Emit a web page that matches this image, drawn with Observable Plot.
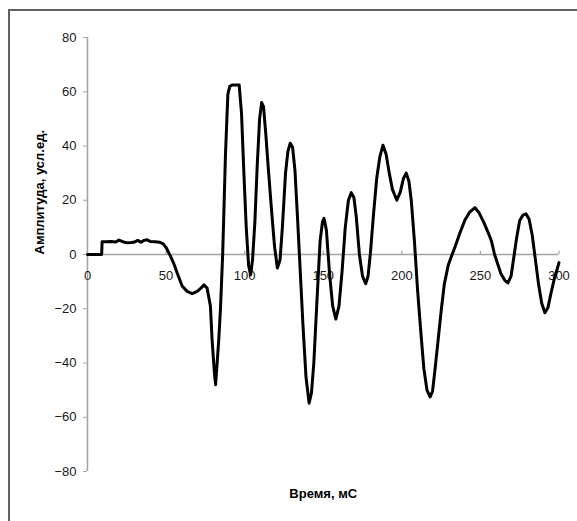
<!DOCTYPE html>
<html>
<head>
<meta charset="utf-8">
<script src="https://cdn.jsdelivr.net/npm/d3@7"></script>
<script src="https://cdn.jsdelivr.net/npm/@observablehq/plot@0.6"></script>
<style>
  html, body { margin: 0; padding: 0; background: #fff; }
  #wrap { position: relative; width: 577px; height: 521px; overflow: hidden; }
  #border { position: absolute; left: 8px; top: 9px; width: 600px; height: 600px;
            border-left: 2px solid #626262; border-top: 2px solid #626262; pointer-events: none; z-index: 2; }
  svg { background: transparent !important; }
</style>
</head>
<body>
<div id="wrap"><div id="border"></div></div>
<script>
const time = [
  0, 9, 9.3, 12, 15, 18, 20, 22, 25, 28, 30, 32, 34, 36, 38, 40, 43, 46, 48,
  50, 52.8, 55, 57, 60.2, 63.4, 66.6, 69.8, 72, 74, 76.1, 78.2, 79.3, 80.8, 81.5, 83.5, 84.6, 86,
  87.8, 89.3, 90.5, 92, 96.5, 98, 99.5, 101, 102.5, 103.8, 105, 106.5, 108, 109.5, 110.8, 112,
  113.5, 115, 117, 119, 120.8, 122.5, 124, 126, 127.5, 129, 130.5, 132, 133.5, 135, 137, 139,
  141, 142.5, 144, 146, 148, 149.5, 150.5, 152, 154, 156, 158, 160, 162, 164, 166, 167.8, 169.5,
  171, 173, 175, 177, 178.5, 180, 182, 184, 186, 188, 190, 192, 194, 196.8, 199, 201, 202.8,
  204.5, 206, 208, 210, 212, 214, 216, 218, 219.5, 221, 223, 225, 227, 229.5, 232, 234, 237,
  240, 243, 246.5, 249, 252, 255, 257, 259, 261, 263, 265.5, 267.5, 269.5, 271, 273, 275, 277,
  279, 281, 283, 285, 287, 289, 291, 293, 295, 297, 299, 300
];
const amplitude = [
  0, 0, 4.7, 4.7, 4.8, 4.6, 5.3, 4.8, 4.3, 4.4, 4.6, 5.2, 4.5, 5.2, 5.4, 4.8, 4.7, 4.5, 4.0,
  2.6, -0.6, -3.5, -6.7, -11.6, -13.6, -14.4, -13.6, -12.5, -11.2, -12.4, -19, -31.7, -44, -48, -31.6, -20, 0,
  37, 59, 62, 62.5, 62.5, 52, 30, 10, -4, -7.5, -2, 12, 33, 50, 56, 54.5,
  44, 32, 17, 3, -5, -2, 10, 30, 38, 41, 39.5, 31, 15, -2, -25, -45,
  -54.8, -51, -40, -17, 5, 12, 13.3, 9, -7, -19, -23.8, -19, -6, 10, 20, 22.8, 21,
  14, 0, -8, -10.8, -8, 0.5, 15, 28, 36, 40.3, 37, 30, 24, 20, 23, 28, 30,
  27, 20, 5, -13, -28, -42, -50, -52.5, -50.5, -43, -32, -21, -11, -4, 0, 3, 8,
  12.5, 15.5, 17.3, 15.5, 12, 8, 5, 0, -3.5, -7, -9.5, -10.5, -8, -2, 6, 12.5, 14.5,
  15, 13, 7, -2, -11, -18, -21.5, -19.5, -14, -9, -5, -3
];
const xTicks = [0, 50, 100, 150, 200, 250, 300];
const yTicks = [-80, -60, -40, -20, 0, 20, 40, 60, 80];
const xLabel = "Время, мС";
const yLabel = "Амплитуда, усл.ед.";

const data = time.map((t, i) => ({t, v: amplitude[i]}));
const axisGray = "#a3a3a3";
const font = "'Liberation Sans', Arial, sans-serif";

const chart = Plot.plot({
  width: 577,
  height: 521,
  marginLeft: 87,
  marginRight: 18.5,
  marginTop: 37,
  marginBottom: 50,
  style: {fontFamily: font, fontSize: "13px", background: "transparent", color: "#1a1a1a"},
  x: {domain: [0, 300], axis: null},
  y: {domain: [-80, 80], axis: null},
  marks: [
    Plot.ruleX([0], {stroke: axisGray, strokeWidth: 1.5}),
    Plot.ruleY([0], {stroke: axisGray, strokeWidth: 1.5}),
    Plot.axisY(yTicks, {tickSize: 4, tickPadding: 7, stroke: axisGray, fill: "#1a1a1a", fontSize: 13, label: null}),
    Plot.ruleX(xTicks, {x: d => d, y1: 0, y2: 1.2, stroke: axisGray, strokeWidth: 1.2}),
    Plot.text(xTicks, {x: d => d, y: 0, dy: 21, text: d => String(d), fill: "#1a1a1a", fontSize: 13}),
    Plot.line(data, {x: "t", y: "v", stroke: "#000", strokeWidth: 3, strokeLinejoin: "round", strokeLinecap: "round"}),
    Plot.text([yLabel], {frameAnchor: "left", rotate: -90, dx: -48, text: d => d, fontWeight: "bold", fontSize: 13, fill: "#000"}),
    Plot.text([xLabel], {frameAnchor: "bottom", dy: 26, text: d => d, fontWeight: "bold", fontSize: 13, fill: "#000"})
  ]
});
document.getElementById("wrap").appendChild(chart);
</script>
</body>
</html>
